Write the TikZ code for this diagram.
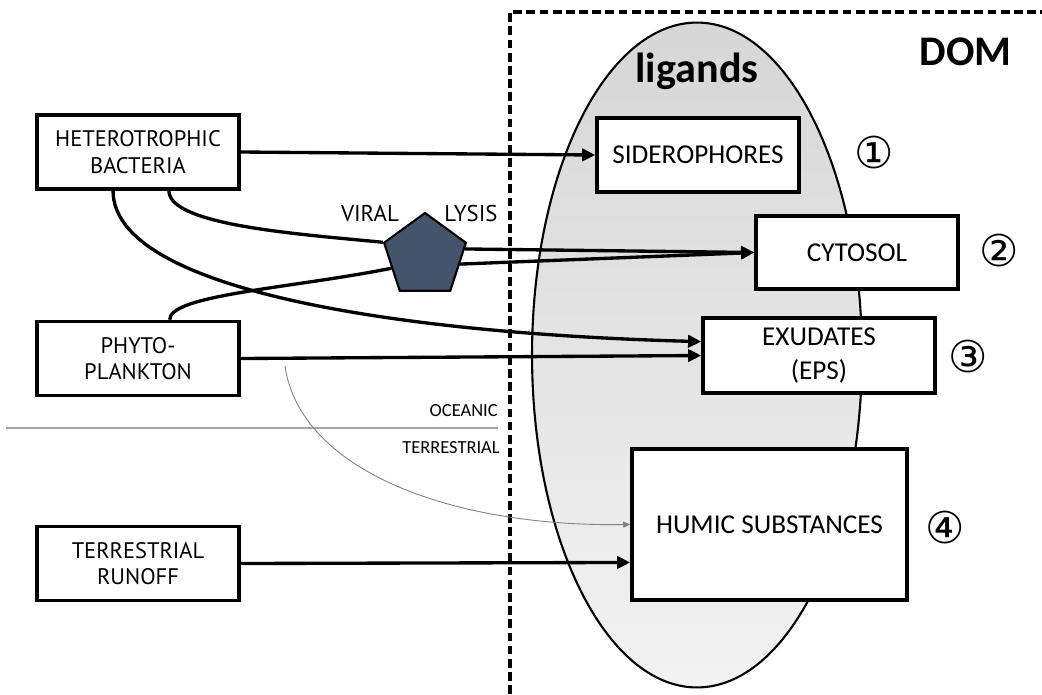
\documentclass[tikz,border=0pt]{standalone}
\usepackage{fontspec}
\setmainfont{Carlito}
\newfontfamily\srcfont{PT Sans}
\newfontfamily\symfont{DejaVu Sans}
\usepackage{tikz}
\usetikzlibrary{positioning,shapes.geometric,arrows.meta}
\definecolor{lysis}{HTML}{44546A}

\begin{document}
\begin{tikzpicture}[x=0.02cm,y=-0.02cm,
  sbox/.style={draw,line width=2pt,fill=white,minimum width=4.04cm,minimum height=1.48cm,
    inner sep=0,align=center,font=\srcfont\fontsize{12.8}{15}\selectfont},
  lbox/.style={draw,line width=2pt,fill=white,inner sep=0,align=center,
    font=\fontsize{15.5}{19}\selectfont},
  link/.style={line width=1.9pt},
  flow/.style={link,-{Triangle[length=7.5pt,width=7pt]}},
  num/.style={font=\symfont\fontsize{25}{25}\selectfont,inner sep=0},
  big/.style={font=\bfseries\fontsize{24}{24}\selectfont,inner sep=0},
  small/.style={font=\fontsize{10.5}{12}\selectfont,inner sep=0}]
\useasboundingbox (0,0) rectangle (1042,694);
\node[ellipse,draw,line width=1.2pt,top color=gray!32,bottom color=gray!10,
  minimum width=6.6cm,minimum height=13.3cm,inner sep=0] (pool) at (697,355) {};
\coordinate (dtop) at (510,12); \coordinate (dbot) at (510,694); \coordinate (dright) at (1042,12);
\draw[line width=1.8pt,dash pattern=on 5pt off 2.5pt] (dbot) -- (dtop) -- (dright);
\coordinate (sl) at (6,428); \coordinate (sr) at (498,428);
\draw[gray!70,line width=0.7pt] (sl) -- (sr);
\node[small,anchor=base east] (ocean) at (498,416) {OCEANIC};
\node[small,anchor=base east] (terr) at (500,453) {TERRESTRIAL};
\node[big,anchor=base] (lig) at (697,82) {ligands};
\node[big,anchor=base east] (dom) at (1012,65) {DOM};

\node[sbox] (bact) at (138,152) {HETEROTROPHIC\\BACTERIA};
\node[sbox] (phyto) at (138,358.5) {PHYTO-\\PLANKTON};
\node[sbox] (runoff) at (138,563.5) {TERRESTRIAL\\RUNOFF};

\node[lbox,minimum width=4.04cm,minimum height=1.48cm] (sid) at (698,155) {SIDEROPHORES};
\node[lbox,minimum width=4.04cm,minimum height=1.46cm] (cyt) at (857,252.5) {CYTOSOL};
\node[lbox,minimum width=4.64cm,minimum height=1.5cm] (exu) at (819,355.5) {EXUDATES\\(EPS)};
\node[lbox,minimum width=5.5cm,minimum height=3.02cm] (hum) at (769.5,524.5) {HUMIC SUBSTANCES};
\node[num] (n1) at (874,152) {①};
\node[num] (n2) at (999,250) {②};
\node[num] (n3) at (968,356) {③};
\node[num] (n4) at (945,527) {④};

\node[regular polygon,regular polygon sides=5,draw,line width=1.2pt,fill=lysis,
  minimum size=1.72cm,inner sep=0] (vir) at (425,256) {};
\node[font=\srcfont\fontsize{13}{15}\selectfont,inner sep=0] (viral) at (370,213) {VIRAL};
\node[font=\srcfont\fontsize{13}{15}\selectfont,inner sep=0] (lys) at (471,213) {LYSIS};

\draw[flow] (bact.east) -- (sid.west);
\draw[link] ([xshift=17.6pt]bact.south) .. controls +(0,35) and +(-80,-8) .. (vir.corner 2);
\draw[link] ([xshift=18pt]phyto.north) .. controls +(0,-25) and +(-100,20) .. (vir.200);
\draw[flow] (vir.10) -- (cyt.west);
\draw[flow] (vir.-13) -- (cyt.west);
\draw[flow] ([xshift=-14.2pt]bact.south) .. controls +(0,100) and +(-300,-8) .. ([yshift=7.9pt]exu.west);
\draw[flow] (phyto.east) -- (exu.west);
\coordinate (fade) at (285,366);
\draw[gray,line width=0.5pt,-{Triangle[length=4pt,width=3.5pt]}] (fade) .. controls (300,470) and (450,527) .. (hum.west);
\draw[flow] (runoff.east) -- ([yshift=-21.6pt]hum.west);
\end{tikzpicture}
\end{document}
